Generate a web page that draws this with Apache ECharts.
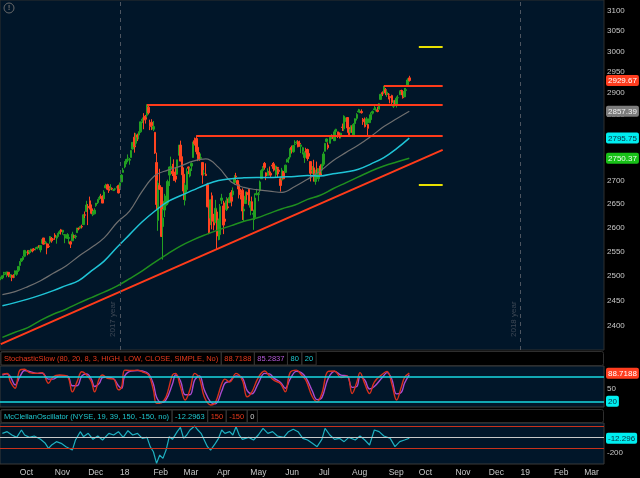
<!DOCTYPE html>
<html>
<head>
<meta charset="utf-8">
<script src="https://cdn.jsdelivr.net/npm/echarts@6/dist/echarts.min.js"></script>
<style>
html,body{margin:0;padding:0;background:#000;}
#main{width:640px;height:478px;}
</style>
</head>
<body>
<div id="main"></div>
<script>
// trading days axis (weekdays minus exchange holidays)
var firstDay = '2017-09-14', lastDay = '2019-03-19';
var holidays = ['2017-11-23','2017-12-25','2018-01-01','2018-01-15','2018-02-19','2018-03-30',
  '2018-05-28','2018-07-04','2018-09-03','2018-11-22','2018-12-25','2019-01-01','2019-01-21','2019-02-18'];
var MONTHS = ['Jan','Feb','Mar','Apr','May','Jun','Jul','Aug','Sep','Oct','Nov','Dec'];

// SPX daily: open, high, low, close (2017-09-14 .. 2018-09-21)
var candles = [
[2494,2498,2491,2496],[2496,2500,2493,2500],[2502,2508,2499,2504],[2506,2507,2502,2507],[2506,2508,2497,2508],[2507,2507,2497,2501],
[2498,2503,2496,2502],[2499,2502,2489,2497],[2501,2503,2495,2497],[2504,2511,2497,2507],[2503,2510,2500,2510],[2511,2520,2508,2519],
// oct
[2521,2530,2521,2529],[2530,2535,2528,2535],[2533,2540,2532,2538],[2540,2553,2538,2552],[2547,2550,2545,2549],[2552,2552,2542,2545],
[2549,2552,2544,2551],[2550,2555,2547,2555],[2553,2556,2548,2551],[2555,2557,2552,2553],[2556,2558,2552,2558],[2557,2560,2554,2559],
[2562,2562,2558,2561],[2553,2563,2548,2562],[2567,2575,2566,2575],[2578,2578,2564,2565],[2568,2572,2565,2569],[2566,2567,2544,2557],
[2561,2566,2557,2560],[2570,2582,2566,2581],[2577,2580,2568,2573],[2576,2578,2571,2575],
// nov
[2584,2588,2574,2579],[2579,2583,2566,2580],[2581,2588,2577,2588],[2588,2594,2586,2591],[2595,2597,2585,2591],[2590,2595,2585,2594],
[2584,2585,2567,2585],[2580,2584,2577,2582],[2577,2588,2576,2585],[2577,2580,2566,2579],[2570,2572,2557,2565],[2572,2591,2572,2586],
[2583,2583,2577,2579],[2580,2585,2576,2582],[2589,2599,2589,2599],[2598,2600,2594,2597],[2599,2604,2599,2602],[2602,2606,2598,2601],
[2606,2628,2606,2627],[2627,2634,2620,2626],[2634,2657,2634,2648],
// dec
[2645,2650,2605,2642],[2657,2666,2639,2639],[2640,2649,2628,2630],[2627,2635,2624,2629],[2629,2641,2628,2637],[2647,2652,2644,2652],
[2653,2661,2650,2660],[2662,2668,2659,2664],[2667,2672,2662,2663],[2666,2669,2652,2652],[2661,2680,2660,2676],[2685,2694,2685,2690],
[2692,2694,2680,2682],[2688,2692,2674,2679],[2683,2693,2681,2685],[2684,2686,2680,2683],[2680,2683,2678,2681],[2682,2685,2679,2683],
[2686,2688,2684,2688],[2690,2692,2673,2674],
// jan
[2684,2696,2683,2696],[2698,2715,2698,2713],[2719,2729,2719,2724],[2731,2744,2728,2743],[2742,2749,2737,2748],[2751,2759,2747,2751],
[2746,2751,2736,2748],[2752,2768,2752,2768],[2771,2787,2770,2786],[2798,2808,2763,2776],[2784,2807,2778,2803],[2803,2806,2789,2798],
[2803,2811,2793,2810],[2810,2833,2808,2833],[2836,2843,2830,2839],[2846,2853,2816,2837],[2846,2849,2829,2839],[2848,2873,2843,2873],
[2867,2870,2850,2854],[2832,2838,2814,2822],[2832,2839,2814,2824],
// feb
[2816,2835,2812,2822],[2809,2809,2760,2762],[2741,2763,2638,2649],[2615,2701,2593,2695],[2690,2727,2681,2682],[2686,2686,2580,2581],
[2602,2639,2533,2620],[2637,2672,2622,2656],[2647,2668,2646,2663],[2652,2703,2648,2699],[2713,2732,2689,2731],[2727,2754,2725,2732],
[2722,2738,2711,2716],[2720,2748,2701,2701],[2711,2731,2697,2704],[2715,2747,2713,2747],[2757,2780,2757,2780],[2780,2790,2744,2744],
[2754,2762,2713,2714],
// mar
[2715,2730,2659,2678],[2658,2696,2647,2691],[2681,2728,2675,2721],[2731,2732,2715,2728],[2711,2730,2708,2727],[2733,2741,2722,2739],
[2752,2787,2752,2787],[2790,2797,2779,2783],[2795,2802,2759,2765],[2775,2777,2744,2750],[2754,2764,2745,2747],[2750,2761,2748,2752],
[2741,2741,2694,2713],[2716,2724,2713,2717],[2715,2739,2711,2712],[2692,2696,2643,2644],[2647,2658,2586,2588],[2620,2659,2605,2659],
[2668,2675,2596,2613],[2612,2629,2594,2605],[2611,2659,2609,2641],
// apr
[2633,2638,2554,2582],[2593,2619,2573,2615],[2585,2650,2574,2645],[2658,2672,2650,2663],[2646,2657,2586,2605],[2618,2653,2610,2613],
[2638,2665,2635,2657],[2644,2662,2640,2642],[2653,2674,2652,2664],[2675,2680,2645,2656],[2670,2686,2665,2678],[2697,2713,2692,2706],
[2711,2718,2703,2709],[2701,2703,2682,2693],[2692,2694,2662,2670],[2675,2683,2660,2670],[2680,2684,2616,2635],[2635,2645,2613,2639],
[2651,2677,2651,2667],[2675,2677,2659,2670],[2682,2683,2648,2648],
// may
[2643,2655,2626,2655],[2655,2666,2635,2636],[2628,2638,2595,2630],[2621,2673,2616,2663],[2670,2683,2669,2673],[2671,2676,2656,2672],
[2679,2701,2675,2698],[2705,2726,2705,2723],[2723,2733,2716,2728],[2739,2742,2725,2730],[2718,2719,2702,2711],[2712,2728,2712,2722],
[2720,2732,2712,2720],[2717,2720,2709,2713],[2735,2740,2727,2733],[2738,2742,2721,2724],[2714,2734,2708,2733],[2730,2731,2708,2728],
[2724,2727,2715,2721],[2705,2710,2677,2690],[2702,2729,2702,2724],[2721,2722,2704,2705],
// jun
[2719,2736,2719,2735],[2742,2749,2741,2747],[2749,2753,2740,2749],[2753,2772,2749,2772],[2775,2779,2761,2770],[2765,2779,2763,2779],
[2781,2791,2780,2782],[2785,2790,2782,2787],[2788,2791,2775,2776],[2784,2790,2776,2783],[2777,2782,2762,2780],[2766,2776,2759,2774],
[2752,2766,2740,2763],[2770,2774,2763,2767],[2770,2772,2745,2750],[2761,2765,2749,2755],[2743,2743,2699,2717],[2722,2733,2715,2723],
[2729,2747,2699,2700],[2699,2725,2692,2716],[2727,2743,2716,2718],
// jul
[2705,2727,2699,2727],[2733,2737,2712,2713],[2724,2738,2716,2737],[2737,2765,2733,2760],[2766,2784,2766,2784],[2788,2795,2786,2794],
[2780,2786,2770,2774],[2784,2800,2784,2798],[2797,2805,2793,2801],[2799,2803,2794,2798],[2790,2815,2789,2810],[2811,2817,2805,2816],
[2810,2810,2796,2805],[2805,2809,2795,2802],[2800,2808,2795,2807],[2821,2829,2812,2820],[2817,2848,2812,2846],[2836,2843,2833,2837],
[2843,2843,2808,2819],[2820,2821,2799,2803],[2809,2825,2809,2816],
// aug
[2822,2825,2808,2813],[2803,2830,2802,2827],[2829,2841,2827,2840],[2841,2853,2836,2850],[2856,2863,2855,2858],[2857,2862,2853,2858],
[2857,2862,2852,2854],[2839,2842,2826,2833],[2835,2843,2820,2822],[2827,2844,2827,2840],[2827,2828,2802,2818],[2831,2850,2831,2840],
[2838,2855,2834,2850],[2853,2859,2850,2857],[2861,2873,2861,2863],[2860,2867,2857,2862],[2860,2868,2855,2857],[2862,2876,2862,2875],
[2885,2898,2885,2897],[2901,2904,2893,2898],[2900,2917,2898,2914],[2908,2912,2895,2901],[2898,2907,2891,2902],
// sep
[2897,2900,2885,2897],[2892,2894,2876,2889],[2894,2896,2870,2878],[2869,2883,2865,2872],[2882,2884,2870,2877],[2871,2892,2866,2888],
[2889,2895,2880,2889],[2896,2906,2896,2904],[2906,2908,2895,2905],[2903,2905,2887,2889],[2891,2912,2891,2904],[2906,2912,2903,2908],
[2919,2935,2919,2931],[2936,2941,2927,2929.67]
];

// moving averages, read every 8th bar starting at bar 1
var maStart = 1, maStep = 8;
var ma50 = [2462,2468,2478,2490,2505,2520,2540,2558,2578,2610,2635,2678,2712,2724,2733,2744,2749,2730,2698,2686,2681,2678,2675,2688,2704,2722,2745,2763,2780,2800,2822,2840,2857.39];
var ma100 = [2440,2446,2453,2461,2470,2480,2490,2510,2530,2558,2585,2612,2635,2655,2668,2680,2692,2701,2705,2707,2708,2708,2709,2710,2712,2711,2716,2720,2726,2738,2752,2772,2795.75];
var ma200 = [2378,2388,2397,2411,2423,2433,2445,2456,2467,2479,2494,2510,2528,2545,2561,2574,2585,2595,2604,2613,2620,2630,2640,2648,2660,2669,2683,2696,2709,2722,2733,2742,2750.37];

// drawn levels
var levels = [['2018-01-26', 2872.87], ['2018-03-13', 2801.88], ['2018-08-29', 2916.5]];
var levelsEnd = '2018-10-22';
var trend = [['2017-09-14', 2365], ['2018-10-22', 2769]];
var targets = [['2018-10-01', 3011], ['2018-10-01', 2692]];
var yearLines = [['2018-01-02', '2017 year'], ['2019-01-02', '2018 year']];

var priceTicks = [2400,2450,2500,2550,2600,2650,2700,2750,2800,2850,2900,2950,3000,3050,3100];
var lastTags = [2929.67, 2857.39, 2795.75, 2750.37];

// stochastic slow [bar, value]
var stochK = [[1,86],[4,88],[6,68],[9,52],[12,96],[15,98],[18,90],[23,88],[26,90],[30,64],[33,80],[37,84],[42,80],[45,43],
  [48,68],[51,92],[54,84],[57,68],[59,43],[62,76],[64,84],[67,76],[71,74],[74,48],[76,55],[78,96],[82,95],[86,96],[89,92],
  [93,84],[96,48],[98,15],[101,17],[104,31],[108,84],[110,88],[113,56],[116,23],[119,48],[122,88],[125,76],[128,31],[132,11],
  [135,17],[139,63],[141,74],[144,67],[148,88],[152,71],[155,31],[158,43],[162,78],[166,94],[169,82],[172,71],[176,63],[179,43],
  [182,90],[186,96],[189,85],[192,71],[196,31],[199,19],[202,39],[206,93],[210,94],[214,78],[218,82],[221,39],[224,67],[226,90],
  [229,63],[232,39],[235,67],[240,86],[243,93],[246,63],[249,23],[252,55],[254,78],[257,88.7188]];
var stochD = [[1,84],[4,87],[6,80],[9,60],[12,80],[15,95],[18,93],[23,88],[26,89],[30,74],[33,74],[37,82],[42,81],[45,58],
  [48,58],[51,82],[54,87],[57,74],[59,56],[62,64],[64,78],[67,79],[71,75],[74,58],[76,52],[78,82],[82,94],[86,95],[89,94],
  [93,87],[96,62],[98,30],[101,17],[104,24],[108,62],[110,84],[113,70],[116,36],[119,36],[122,72],[125,82],[128,48],[132,18],
  [135,14],[139,45],[141,64],[144,69],[148,82],[152,77],[155,46],[158,38],[162,64],[166,88],[169,87],[172,76],[176,66],[179,52],
  [182,74],[186,93],[189,90],[192,78],[196,45],[199,24],[202,29],[206,76],[210,93],[214,84],[218,81],[221,54],[224,56],[226,80],
  [229,72],[232,50],[235,56],[240,78],[243,90],[246,74],[249,38],[252,42],[254,64],[257,85.2837]];

// McClellan oscillator [bar, value]
var mcclellan = [[1,53],[4,75],[7,31],[10,0],[13,97],[15,31],[18,0],[21,18],[25,-26],[28,-79],[30,-146],[32,-101],[35,-57],
  [38,-79],[41,-123],[45,-168],[47,-35],[50,75],[52,9],[55,53],[58,-26],[61,18],[64,-35],[68,53],[71,31],[74,75],[77,0],[80,88],
  [83,31],[86,53],[89,-13],[92,0],[94,-123],[96,-190],[98,-344],[100,-234],[102,-278],[104,-168],[106,9],[108,-26],[111,75],
  [113,132],[115,-13],[117,31],[119,97],[122,150],[124,97],[126,53],[128,-35],[130,-123],[132,-168],[135,-79],[137,-13],[139,97],
  [141,53],[144,75],[146,31],[148,141],[150,31],[152,-26],[156,0],[159,-35],[162,31],[165,119],[168,53],[171,75],[174,18],[178,0],
  [181,75],[184,106],[187,75],[190,-13],[193,-35],[196,-79],[199,-123],[202,-26],[204,119],[207,31],[210,-26],[213,-13],[216,-57],
  [219,0],[223,-35],[226,18],[229,-35],[232,-101],[235,97],[238,75],[241,18],[245,-13],[248,-123],[251,-57],[254,-35],[257,-12.2963]];

var FONT = "'Liberation Sans',Arial,sans-serif";
var BG = '#011629';
var RED = '#ff3b1a';
var L = Math.log;

function pad(n){ return n < 10 ? '0' + n : '' + n; }
var days = [];
(function(){
  var d = new Date(firstDay + 'T00:00:00Z'), end = new Date(lastDay + 'T00:00:00Z');
  while (d <= end) {
    var s = d.getUTCFullYear() + '-' + pad(d.getUTCMonth() + 1) + '-' + pad(d.getUTCDate());
    var wd = d.getUTCDay();
    if (wd !== 0 && wd !== 6 && holidays.indexOf(s) < 0) days.push(s);
    d.setUTCDate(d.getUTCDate() + 1);
  }
})();

var candleData = candles.map(function(r){ return [L(r[0]), L(r[3]), L(r[2]), L(r[1])]; });
function maLine(arr){ return arr.map(function(v, i){ return [maStart + i * maStep, L(v)]; }); }

var lineData = [];
levels.forEach(function(l){
  lineData.push([{coord:[l[0], L(l[1])], lineStyle:{color:RED, width:2, type:'solid'}}, {coord:[levelsEnd, L(l[1])]}]);
});
lineData.push([{coord:[trend[0][0], L(trend[0][1])], lineStyle:{color:RED, width:2, type:'solid'}}, {coord:[trend[1][0], L(trend[1][1])]}]);
targets.forEach(function(t){
  lineData.push([{coord:[t[0], L(t[1])], lineStyle:{color:'#e8e000', width:2, type:'solid'}}, {coord:[levelsEnd, L(t[1])]}]);
});
yearLines.forEach(function(y){
  lineData.push({xAxis: days.indexOf(y[0]), lineStyle:{color:'#4d5560', width:1, type:[4,4]},
    label:{show:true, formatter:y[1], position:'insideStartTop', distance:[13,3], color:'#3e4855', fontSize:8, fontFamily:FONT}});
});

function xAx(g, show){
  return {type:'category', gridIndex:g, data:days, boundaryGap:true,
    axisLine:{show:false}, axisTick:{show:false}, splitLine:{show:false},
    axisLabel: show ? {
      interval: function(i, v){ return i > 0 && v.slice(5,7) !== days[i-1].slice(5,7); },
      formatter: function(v){ var m = +v.slice(5,7); return m === 1 ? v.slice(2,4) : MONTHS[m-1]; },
      align:'left', margin:4, color:'#c8c8c8', fontSize:8.5, fontFamily:FONT
    } : {show:false}};
}
function yAx(g, min, max, lab){
  var a = {type:'value', gridIndex:g, position:'right', min:min, max:max,
    splitLine:{show:false}, axisLine:{show:false}, axisTick:{show:false}};
  a.axisLabel = Object.assign({margin:3, color:'#c8c8c8', fontSize:8, fontFamily:FONT}, lab);
  return a;
}
function tag(bg, fg){ return {backgroundColor:bg, color:fg, padding:[2,2,1,2], borderRadius:2, fontSize:8, fontFamily:FONT}; }
function cell(col){ return {fill:col, padding:[3,3,2,3], borderColor:'#333', borderWidth:1, fontSize:7.5, fontFamily:FONT}; }

var chart = echarts.init(document.getElementById('main'));
chart.setOption({
  backgroundColor:'#000',
  animation:false,
  grid:[
    {left:0, right:36, top:0, height:350, show:true, backgroundColor:BG, borderColor:'#2e2e2e', outerBoundsMode:'none'},
    {left:0, right:36, top:366, height:41, show:true, backgroundColor:BG, borderColor:'#3a3a3a', outerBoundsMode:'none'},
    {left:0, right:36, top:423, height:41, show:true, backgroundColor:BG, borderColor:'#3a3a3a', outerBoundsMode:'none'}
  ],
  xAxis:[xAx(0,false), xAx(1,false), xAx(2,true)],
  yAxis:[
    yAx(0, L(2353.7), L(3127.7), {customValues: priceTicks.map(L), formatter:function(v){ return Math.round(Math.exp(v)); }}),
    yAx(0, L(2353.7), L(3127.7), {customValues: lastTags.map(L), margin:2,
      formatter:function(v){
        var p = Math.exp(v), best = 0;
        lastTags.forEach(function(t, i){ if (Math.abs(t - p) < Math.abs(lastTags[best] - p)) best = i; });
        return '{' + ['r','g','c','n'][best] + '|' + lastTags[best].toFixed(2) + '}';
      },
      rich:{r:tag('#ff3d1f','#fff'), g:tag('#7c7c7c','#f0f0f0'), c:tag('#00eef0','#0a3040'), n:tag('#18c018','#eaffea')}}),
    yAx(1, 6.1, 106.1, {customValues:[50]}),
    yAx(1, 6.1, 106.1, {customValues:[stochK[stochK.length-1][1], 20], margin:2,
      formatter:function(v){ return v > 50 ? '{r|' + v.toFixed(4) + '}' : '{c|20}'; },
      rich:{r:tag('#ff3d1f','#fff'), c:tag('#00eef0','#0a3040')}}),
    yAx(2, -352, 189.6, {customValues:[-200]}),
    yAx(2, -352, 189.6, {customValues:[mcclellan[mcclellan.length-1][1]], margin:2,
      formatter:function(v){ return '{c|' + v.toFixed(3) + '}'; },
      rich:{c:tag('#00eef0','#0a3040')}})
  ],
  series:[
    {type:'candlestick', xAxisIndex:0, yAxisIndex:0, data:candleData, barWidth:2,
      itemStyle:{color:'#22a022', color0:'#ff4420', borderColor:'#22a022', borderColor0:'#ff4420', borderWidth:1},
      markLine:{symbol:['none','none'], silent:true, animation:false, label:{show:false}, data:lineData}},
    {type:'line', xAxisIndex:0, yAxisIndex:0, data:maLine(ma50), smooth:0.4, symbol:'none', lineStyle:{color:'#6f6f6f', width:1.2}},
    {type:'line', xAxisIndex:0, yAxisIndex:0, data:maLine(ma100), smooth:0.4, symbol:'none', lineStyle:{color:'#1fc4d6', width:1.5}},
    {type:'line', xAxisIndex:0, yAxisIndex:0, data:maLine(ma200), smooth:0.4, symbol:'none', lineStyle:{color:'#1f8f1f', width:1.5}},
    {type:'line', xAxisIndex:1, yAxisIndex:2, data:stochD, smooth:0.4, symbol:'none', lineStyle:{color:'#a94ad0', width:1.4},
      markLine:{symbol:['none','none'], silent:true, label:{show:false}, lineStyle:{color:'#18d8e0', width:1.5, type:'solid'},
        data:[{yAxis:80},{yAxis:20}]}},
    {type:'line', xAxisIndex:1, yAxisIndex:2, data:stochK, smooth:0.4, symbol:'none', lineStyle:{color:'#d8301c', width:1.4}},
    {type:'line', xAxisIndex:2, yAxisIndex:4, data:mcclellan, symbol:'none', lineStyle:{color:'#1fb0c0', width:1.2},
      markLine:{symbol:['none','none'], silent:true, label:{show:false},
        data:[{yAxis:150, lineStyle:{color:'#c8321c', width:1, type:'solid'}},
              {yAxis:-150, lineStyle:{color:'#c8321c', width:1, type:'solid'}},
              {yAxis:0, lineStyle:{color:'#c8c8c8', width:1, type:'solid'}}]}}
  ],
  graphic:[
    {type:'circle', shape:{cx:9, cy:8, r:5}, style:{fill:'none', stroke:'#6a6a6a', lineWidth:1}},
    {type:'text', x:9, y:8, style:{text:'!', fill:'#6a6a6a', font:'bold 8px ' + FONT, align:'center', verticalAlign:'middle'}},
    {type:'rect', shape:{x:0.5, y:351.5, width:603, height:14, r:2}, style:{fill:'#000', stroke:'#2e2e2e'}},
    {type:'text', x:1, y:352, style:{
      text:'{t|StochasticSlow (80, 20, 8, 3, HIGH, LOW, CLOSE, SIMPLE, No)}{k|88.7188}{d|85.2837}{c|80}{c|20}',
      font:'7.5px ' + FONT,
      rich:{t:cell('#e8391c'), k:cell('#e8391c'), d:cell('#b45ad8'), c:cell('#1ec8d0')}}},
    {type:'rect', shape:{x:0.5, y:409.5, width:603, height:13, r:2}, style:{fill:'#000', stroke:'#2e2e2e'}},
    {type:'text', x:1, y:410, style:{
      text:'{t|McClellanOscillator (NYSE, 19, 39, 150, -150, no)}{v|-12.2963}{r|150}{r|-150}{w|0}',
      font:'7.5px ' + FONT,
      rich:{t:cell('#1ec8d0'), v:cell('#1ec8d0'), r:cell('#e8391c'), w:cell('#d0d0d0')}}}
  ]
});
</script>
</body>
</html>
